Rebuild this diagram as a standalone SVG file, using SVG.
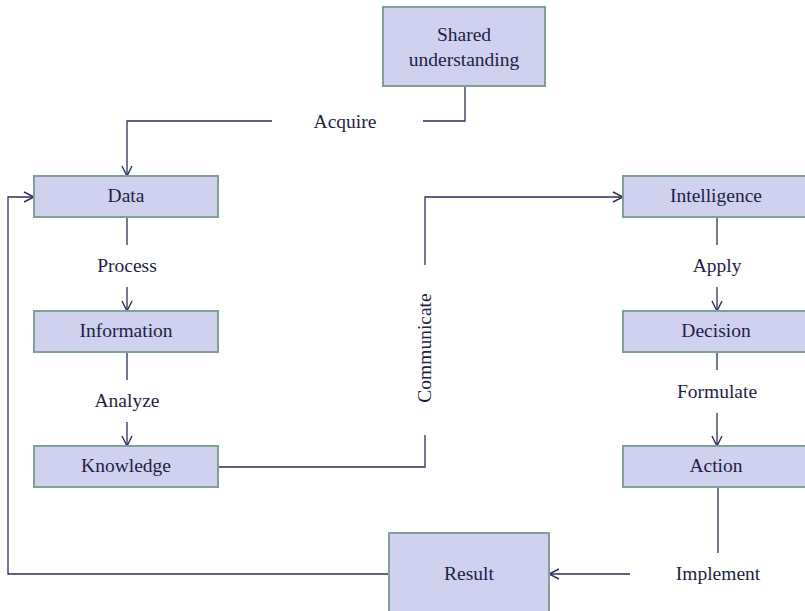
<svg xmlns="http://www.w3.org/2000/svg" width="805" height="611" viewBox="0 0 805 611">
  <defs>
    <marker id="arrow" viewBox="0 0 12 12" refX="11" refY="6" markerWidth="12" markerHeight="12" markerUnits="userSpaceOnUse" orient="auto">
      <path d="M1,1 L11,6 L1,11" fill="none" stroke="#2e2e5e" stroke-width="1.4"/>
    </marker>
  </defs>
  <style>
    .box { fill: #d0d0ef; stroke: #82a09a; stroke-width: 2; }
    .lbl { font-size: 19.5px; fill: #1e1e48; text-anchor: middle; }
    .wire { fill: none; stroke: #2e2e5e; stroke-width: 1.3; }
  </style>
  <rect width="805" height="611" fill="#ffffff"/>

  <g font-family="'Liberation Serif', 'Times New Roman', serif">
  <g id="connectors">
    <!-- Acquire -->
    <polyline class="wire" points="465,86 465,121 423,121"/>
    <polyline class="wire" points="272,121 127,121 127,176" marker-end="url(#arrow)"/>
    <text class="lbl" x="345" y="128">Acquire</text>
    <!-- Process -->
    <line class="wire" x1="127" y1="217" x2="127" y2="245"/>
    <line class="wire" x1="127" y1="287" x2="127" y2="311" marker-end="url(#arrow)"/>
    <text class="lbl" x="127" y="272">Process</text>
    <!-- Analyze -->
    <line class="wire" x1="127" y1="352" x2="127" y2="380"/>
    <line class="wire" x1="127" y1="422" x2="127" y2="446" marker-end="url(#arrow)"/>
    <text class="lbl" x="127" y="407">Analyze</text>
    <!-- Communicate -->
    <polyline class="wire" points="218,467 425,467 425,435"/>
    <polyline class="wire" points="425,265 425,197 623,197" marker-end="url(#arrow)"/>
    <text class="lbl" transform="translate(431,348) rotate(-90)" x="0" y="0">Communicate</text>
    <!-- Apply -->
    <line class="wire" x1="717" y1="217" x2="717" y2="245"/>
    <line class="wire" x1="717" y1="287" x2="717" y2="311" marker-end="url(#arrow)"/>
    <text class="lbl" x="717" y="272">Apply</text>
    <!-- Formulate -->
    <line class="wire" x1="717" y1="352" x2="717" y2="370"/>
    <line class="wire" x1="717" y1="413" x2="717" y2="446" marker-end="url(#arrow)"/>
    <text class="lbl" x="717" y="398">Formulate</text>
    <!-- Implement -->
    <line class="wire" x1="718" y1="487" x2="718" y2="553"/>
    <line class="wire" x1="630" y1="574" x2="549" y2="574" marker-end="url(#arrow)"/>
    <text class="lbl" x="718" y="580">Implement</text>
    <!-- Feedback loop -->
    <polyline class="wire" points="389,574 8,574 8,197 34,197" marker-end="url(#arrow)"/>
  </g>

  <g id="shared">
    <rect class="box" x="383" y="7" width="162" height="79"/>
    <text class="lbl" x="464" y="41">Shared</text>
    <text class="lbl" x="464" y="66">understanding</text>
  </g>
  <g id="data">
    <rect class="box" x="34" y="176" width="184" height="41"/>
    <text class="lbl" x="126" y="202">Data</text>
  </g>
  <g id="information">
    <rect class="box" x="34" y="311" width="184" height="41"/>
    <text class="lbl" x="126" y="337">Information</text>
  </g>
  <g id="knowledge">
    <rect class="box" x="34" y="446" width="184" height="41"/>
    <text class="lbl" x="126" y="472">Knowledge</text>
  </g>
  <g id="intelligence">
    <rect class="box" x="623" y="176" width="184" height="41"/>
    <text class="lbl" x="716" y="202">Intelligence</text>
  </g>
  <g id="decision">
    <rect class="box" x="623" y="311" width="184" height="41"/>
    <text class="lbl" x="716" y="337">Decision</text>
  </g>
  <g id="action">
    <rect class="box" x="623" y="446" width="184" height="41"/>
    <text class="lbl" x="716" y="472">Action</text>
  </g>
  <g id="result">
    <rect class="box" x="389" y="533" width="160" height="82"/>
    <text class="lbl" x="469" y="580">Result</text>
  </g>
  </g>
</svg>
